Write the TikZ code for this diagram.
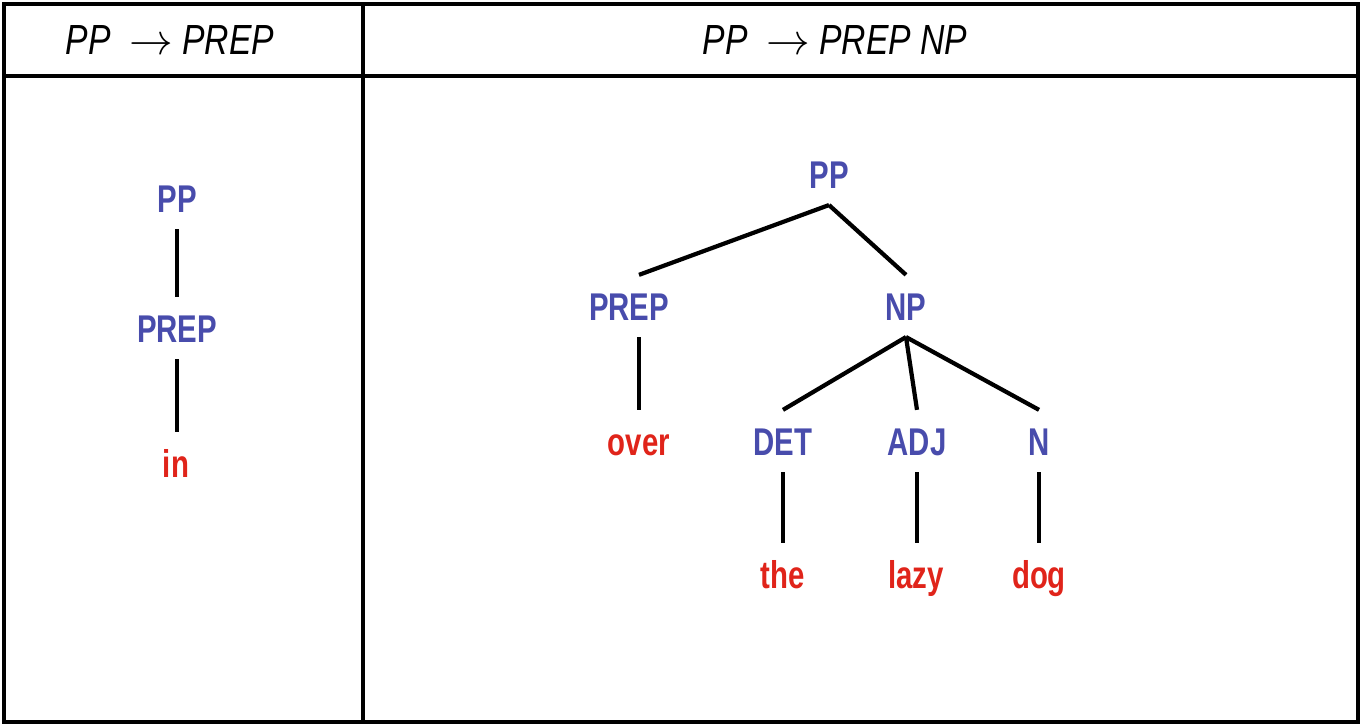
\documentclass[tikz,border=0pt]{standalone}
\usepackage{fontspec}
\setmainfont{Liberation Sans}[FakeStretch=0.8, BoldFeatures={FakeStretch=0.76}]
\definecolor{catblue}{RGB}{72,76,172}
\definecolor{wordred}{RGB}{224,36,26}

\begin{document}
\begin{tikzpicture}[
  x=0.02cm, y=-0.02cm,
  every node/.style={anchor=base, text height=16pt, text depth=0pt,
    inner xsep=2pt, inner ysep=9.5pt, font=\fontsize{22}{26}\selectfont\bfseries},
  cat/.style={text=catblue},
  word/.style={text=wordred},
  head/.style={font=\fontsize{24}{28}\selectfont\itshape},
  branch/.style={line width=2.4pt},
  frame/.style={line width=2.6pt}
]
  \useasboundingbox (0,0) rectangle (1363,725);

  % Table
  \draw[frame] (4,4) rectangle (1358,722);
  \draw[frame] (4,76) -- (1358,76);
  \draw[frame] (363,4) -- (363,722);

  % Headers
  \node[head] (hleft)  at (170,54) {PP~~$\rightarrow$ PREP};
  \node[head] (hright) at (835,54) {PP~~$\rightarrow$ PREP NP};

  % Left tree
  \node[cat]  (lpp)   at (177,212) {PP};
  \node[cat]  (lprep) at (177,342) {PREP};
  \node[word] (lin)   at (176,477) {in};
  \draw[branch] (lpp.south) -- (lprep.north);
  \draw[branch] (lprep.south) -- (lprep.south |- lin.north);

  % Right tree
  \node[cat]  (rpp)  at (829,188) {PP};
  \node[cat]  (prep) at (629,320) {PREP};
  \node[cat]  (np)   at (906,320) {NP};
  \node[word] (over) at (639,455) {over};
  \node[cat]  (det)  at (783,455) {DET};
  \node[cat]  (adj)  at (917,455) {ADJ};
  \node[cat]  (n)    at (1039,455) {N};
  \node[word] (the)  at (783,588) {the};
  \node[word] (lazy) at (916,588) {lazy};
  \node[word] (dog)  at (1039,588) {dog};

  \draw[branch] (rpp.south) -- (over.north |- prep.north);
  \draw[branch] (rpp.south) -- (np.north);
  \draw[branch] (over.north |- prep.south) -- (over.north);
  \draw[branch] (np.south) -- (det.north);
  \draw[branch] (np.south) -- (adj.north);
  \draw[branch] (np.south) -- (n.north);
  \draw[branch] (det.south) -- (the.north);
  \draw[branch] (adj.south) -- (adj.south |- lazy.north);
  \draw[branch] (n.south) -- (n.south |- dog.north);

\end{tikzpicture}
\end{document}
